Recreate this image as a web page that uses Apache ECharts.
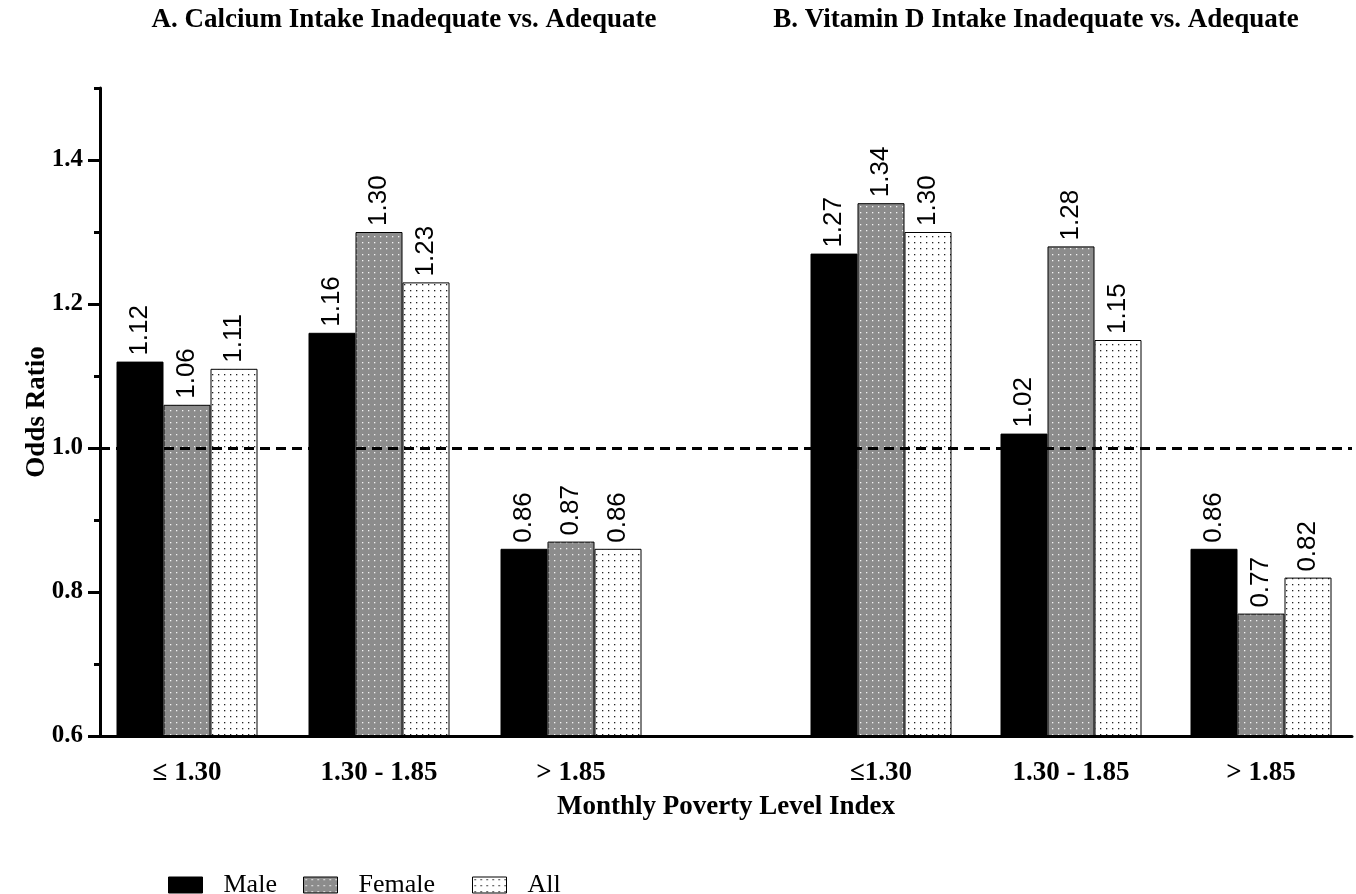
<!DOCTYPE html>
<html>
<head>
<meta charset="utf-8">
<script src="https://cdn.jsdelivr.net/npm/echarts@6/dist/echarts.min.js"></script>
<style>
  html, body { margin: 0; padding: 0; background: #fff; }
  #chart { width: 1356px; height: 894px; }
</style>
</head>
<body>
<div id="chart"></div>
<script>
// poverty index groups, one set per panel
const groupsA = ['\u2264 1.30', '1.30 - 1.85', '> 1.85']
const groupsB = ['\u22641.30', '1.30 - 1.85', '> 1.85']

// A. calcium intake inadequate vs adequate
const calciumMale = [1.12, 1.16, 0.86]
const calciumFemale = [1.06, 1.30, 0.87]
const calciumAll = [1.11, 1.23, 0.86]

// B. vitamin D intake inadequate vs adequate
const vitDMale = [1.27, 1.02, 0.86]
const vitDFemale = [1.34, 1.28, 0.77]
const vitDAll = [1.30, 1.15, 0.82]

const majorTicks = [0.6, 0.8, 1.0, 1.2, 1.4]
const minorTicks = [0.7, 0.9, 1.1, 1.3, 1.5]
const refLine = 1.0

const serif = "'Liberation Serif', 'Times New Roman', serif"
const sans = "'Liberation Sans', Arial, sans-serif"

// dotted fills like the prism hatch patterns
function dots(bg, dot) {
    const c = document.createElement('canvas')
    c.width = 6
    c.height = 6
    const g = c.getContext('2d')
    g.fillStyle = bg
    g.fillRect(0, 0, 6, 6)
    g.fillStyle = dot
    g.fillRect(2, 2, 1.3, 1.3)
    return {image: c, repeat: 'repeat'}
}

const fills = {
    Male: '#000',
    Female: dots('#8c8c8c', '#f4f4f4'),
    All: dots('#ffffff', '#222222')
}

function barSeries(name, data, idx) {
    return {
        name: name,
        type: 'bar',
        xAxisIndex: idx,
        yAxisIndex: idx,
        data: data,
        barWidth: 47,
        barGap: '0%',
        clip: true,
        itemStyle: {color: fills[name], borderColor: '#000', borderWidth: 1},
        label: {
            show: true,
            position: 'top',
            rotate: 90,
            align: 'left',
            verticalAlign: 'middle',
            distance: 6,
            fontFamily: sans,
            fontSize: 26,
            color: '#000',
            formatter: p => p.value.toFixed(2)
        }
    }
}

const gridTop = 88, gridHeight = 648
const boldText = {fontFamily: serif, fontWeight: 'bold', fontSize: 27, color: '#000'}
const panelAxis = {
    type: 'category',
    axisLine: {show: false},
    axisTick: {show: false},
    axisLabel: Object.assign({margin: 24}, boldText)
}
const hiddenY = {type: 'value', min: 0.6, max: 1.5, startValue: 0.6, show: false}

function legendAt(name, left) {
    return {
        data: [name],
        left: left,
        top: 872,
        padding: 0,
        icon: 'rect',
        itemWidth: 34,
        itemHeight: 16,
        itemStyle: {borderColor: '#000', borderWidth: 1},
        textStyle: {fontFamily: serif, fontSize: 26, color: '#000', padding: [0, 0, 0, 16]}
    }
}

const chart = echarts.init(document.getElementById('chart'))
chart.setOption({
    animation: false,
    backgroundColor: '#fff',
    title: [
        {text: 'A. Calcium Intake Inadequate vs. Adequate', left: 404, top: 7, padding: 0, textAlign: 'center',
            textStyle: boldText},
        {text: 'B. Vitamin D Intake Inadequate vs. Adequate', left: 1036, top: 7, padding: 0, textAlign: 'center',
            textStyle: boldText}
    ],
    legend: [legendAt('Male', 168), legendAt('Female', 303), legendAt('All', 472)],
    grid: [
        {left: 100, width: 1252, top: gridTop, height: gridHeight},
        {left: 91, width: 576, top: gridTop, height: gridHeight},
        {left: 786, width: 576, top: gridTop, height: gridHeight}
    ],
    xAxis: [
        {
            gridIndex: 0, type: 'value', min: 0, max: 1,
            axisLine: {lineStyle: {color: '#000', width: 3}},
            axisTick: {show: false}, axisLabel: {show: false}, splitLine: {show: false},
            name: 'Monthly Poverty Level Index', nameLocation: 'middle', nameGap: 58,
            nameMoveOverlap: false,
            nameTextStyle: boldText
        },
        Object.assign({gridIndex: 1, data: groupsA}, panelAxis),
        Object.assign({gridIndex: 2, data: groupsB}, panelAxis)
    ],
    yAxis: [
        {
            gridIndex: 0, type: 'value', min: 0.6, max: 1.5, position: 'left',
            axisLine: {show: true, lineStyle: {color: '#000', width: 3}},
            axisTick: {show: true, length: 12, lineStyle: {width: 3, color: '#000'}, customValues: majorTicks},
            axisLabel: {
                customValues: majorTicks, margin: 17,
                fontFamily: serif, fontWeight: 'bold', fontSize: 25, color: '#000',
                formatter: v => v.toFixed(1)
            },
            splitLine: {show: false},
            name: 'Odds Ratio', nameLocation: 'middle', nameGap: 49,
            nameMoveOverlap: false,
            nameTextStyle: boldText
        },
        Object.assign({gridIndex: 1}, hiddenY),
        Object.assign({gridIndex: 2}, hiddenY),
        {
            gridIndex: 0, type: 'value', min: 0.6, max: 1.5, position: 'left',
            axisLine: {show: false},
            axisTick: {show: true, length: 6, lineStyle: {width: 3, color: '#000'}, customValues: minorTicks},
            axisLabel: {show: false},
            splitLine: {show: false}
        }
    ],
    series: [
        barSeries('Male', calciumMale, 1),
        barSeries('Female', calciumFemale, 1),
        barSeries('All', calciumAll, 1),
        barSeries('Male', vitDMale, 2),
        barSeries('Female', vitDFemale, 2),
        barSeries('All', vitDAll, 2),
        {
            type: 'line', xAxisIndex: 0, yAxisIndex: 0, data: [], z: 10,
            markLine: {
                silent: true, symbol: 'none', animation: false,
                label: {show: false},
                lineStyle: {color: '#000', width: 3, type: [10, 6]},
                data: [{yAxis: refLine}]
            }
        }
    ]
})
</script>
</body>
</html>
